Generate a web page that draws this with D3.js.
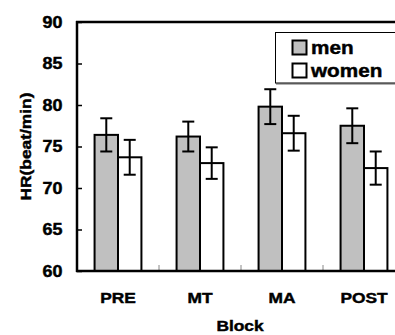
<!DOCTYPE html>
<html>
<head>
<meta charset="utf-8">
<script src="https://cdn.jsdelivr.net/npm/d3@7"></script>
<style>
  body { margin: 0; background: #fff; }
  text { font-family: "Liberation Sans", Arial, sans-serif; font-weight: bold; fill: #000;
         stroke: #000; stroke-width: 0.45px; }
</style>
</head>
<body>
<script>
const wid = 395, hei = 335;
const sx = 1.12;   // text in the original is a bit stretched along its run

// data
const blocks = ['PRE', 'MT', 'MA', 'POST'];
const series = ['men', 'women'];
const menVals = [76.4, 76.2, 79.8, 77.5];
const menErr = [2.0, 1.8, 2.1, 2.1];
const womenVals = [73.7, 73.0, 76.6, 72.4];
const womenErr = [2.1, 1.9, 2.1, 2.0];
const yTicks = [60, 65, 70, 75, 80, 85, 90];

const colors = {men: '#c0c0c0', women: '#ffffff'};

const rows = [];
blocks.forEach((b, i) => {
    rows.push({block: b, s: 'men', v: menVals[i], e: menErr[i]});
    rows.push({block: b, s: 'women', v: womenVals[i], e: womenErr[i]});
});

const m = {left: 77, top: 22, right: 405, bottom: 271};

let svg = d3.select('body')
    .append('svg')
    .attr('width', wid)
    .attr('height', hei);

let x = d3.scaleBand().domain(blocks).range([m.left, m.right]);
let xs = d3.scaleBand().domain(series).range([0, x.bandwidth()]).paddingInner(0).paddingOuter(0.75);
let y = d3.scaleLinear().domain([60, 90]).range([m.bottom, m.top]);

// bars
svg.selectAll('rect.bar')
    .data(rows)
    .enter()
    .append('rect')
    .attr('class', 'bar')
    .attr('x', d => x(d.block) + xs(d.s))
    .attr('y', d => y(d.v))
    .attr('width', xs.bandwidth())
    .attr('height', d => y(60) - y(d.v))
    .attr('fill', d => colors[d.s])
    .attr('stroke', '#000')
    .attr('stroke-width', 2);

// error bars
let eb = svg.selectAll('g.err')
    .data(rows)
    .enter()
    .append('g')
    .attr('class', 'err')
    .attr('transform', d => `translate(${x(d.block) + xs(d.s) + xs.bandwidth() / 2},0)`);
eb.append('line')
    .attr('y1', d => y(d.v + d.e)).attr('y2', d => y(d.v - d.e))
    .attr('stroke', '#000').attr('stroke-width', 2);
eb.append('line')
    .attr('x1', -6).attr('x2', 6)
    .attr('y1', d => y(d.v + d.e)).attr('y2', d => y(d.v + d.e))
    .attr('stroke', '#000').attr('stroke-width', 2);
eb.append('line')
    .attr('x1', -6).attr('x2', 6)
    .attr('y1', d => y(d.v - d.e)).attr('y2', d => y(d.v - d.e))
    .attr('stroke', '#000').attr('stroke-width', 2);

// y axis ticks (inside)
let yAxis = svg.append('g')
    .attr('transform', `translate(${m.left},0)`)
    .call(d3.axisRight(y).tickValues(yTicks).tickSize(5).tickFormat(''));
yAxis.select('.domain').remove();
yAxis.selectAll('line').attr('stroke', '#000').attr('stroke-width', 1.5);

svg.selectAll('text.ytick')
    .data(yTicks)
    .enter()
    .append('text')
    .attr('class', 'ytick')
    .attr('transform', d => `translate(62.5,${y(d) + 5.5}) scale(${sx},1)`)
    .attr('text-anchor', 'end')
    .attr('font-size', 16)
    .text(d => d);

// x category separators
svg.selectAll('line.sep')
    .data(blocks.slice(1))
    .enter()
    .append('line')
    .attr('x1', d => x(d)).attr('x2', d => x(d))
    .attr('y1', m.bottom).attr('y2', m.bottom - 6)
    .attr('stroke', '#888').attr('stroke-width', 1);

// frame lines
svg.append('line')
    .attr('x1', m.left).attr('x2', m.left)
    .attr('y1', m.top - 1).attr('y2', m.bottom + 1)
    .attr('stroke', '#000').attr('stroke-width', 2.5);
svg.append('line')
    .attr('x1', m.left - 1).attr('x2', wid)
    .attr('y1', m.top).attr('y2', m.top)
    .attr('stroke', '#000').attr('stroke-width', 2.5);
svg.append('line')
    .attr('x1', m.left - 1).attr('x2', wid)
    .attr('y1', m.bottom).attr('y2', m.bottom)
    .attr('stroke', '#000').attr('stroke-width', 2.5);

// x tick labels
svg.selectAll('text.xtick')
    .data(blocks)
    .enter()
    .append('text')
    .attr('class', 'xtick')
    .attr('transform', d => `translate(${x(d) + x.bandwidth() / 2},303) scale(${sx},1)`)
    .attr('text-anchor', 'middle')
    .attr('font-size', 15.5)
    .text(d => d);

// axis titles
svg.append('text')
    .attr('transform', `translate(240,331) scale(${sx},1)`)
    .attr('text-anchor', 'middle')
    .attr('font-size', 15.5)
    .text('Block');
svg.append('text')
    .attr('transform', `translate(31,146.5) rotate(-90) scale(${sx},1)`)
    .attr('text-anchor', 'middle')
    .attr('font-size', 15.5)
    .text('HR(beat/min)');

// legend
svg.append('line')
    .attr('x1', 276).attr('x2', wid)
    .attr('y1', 84).attr('y2', 84)
    .attr('stroke', '#999').attr('stroke-width', 1.5);
svg.append('rect')
    .attr('x', 275.5).attr('y', 32.5)
    .attr('width', 130).attr('height', 50.5)
    .attr('fill', '#fff')
    .attr('stroke', '#000').attr('stroke-width', 1);

let lg = svg.selectAll('g.leg')
    .data(series)
    .enter()
    .append('g')
    .attr('class', 'leg')
    .attr('transform', (d, i) => `translate(292,${40 + i * 23})`);
lg.append('rect')
    .attr('x', 0.5).attr('y', 0.5)
    .attr('width', 14).attr('height', 14)
    .attr('fill', d => colors[d])
    .attr('stroke', '#000').attr('stroke-width', 2);
lg.append('text')
    .attr('transform', `translate(19,14) scale(${sx},1)`)
    .attr('font-size', 18.5)
    .text(d => d);
</script>
</body>
</html>
